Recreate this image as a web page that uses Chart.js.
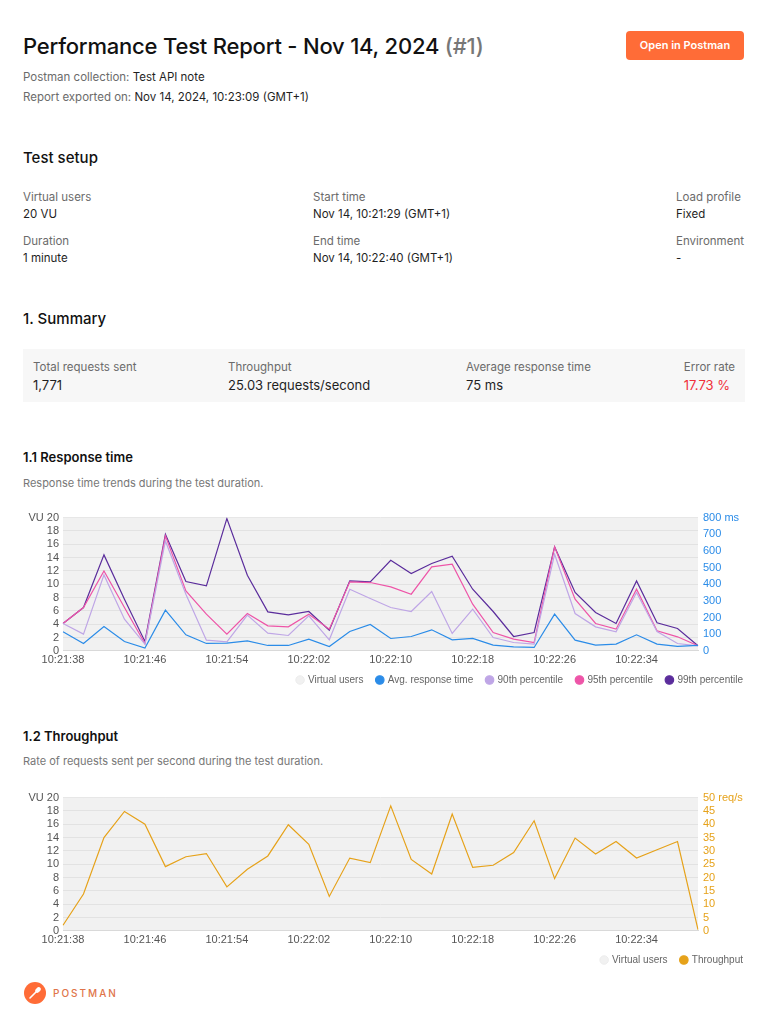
<!DOCTYPE html>
<html>
<head>
<meta charset="utf-8">
<script src="https://cdn.jsdelivr.net/npm/chart.js@4.4.1/dist/chart.umd.min.js"></script>
<style>
  html, body { margin: 0; padding: 0; background: #fff; }
  body { width: 768px; height: 1024px; position: relative; font-family: Inter, "Noto Sans", sans-serif; color: #1f1f1f; overflow: hidden; }
  .t { position: absolute; white-space: nowrap; }
  .lbl { color: #6b6b6b; }
  .sm { font-size: 11.5px; line-height: 16px; }
  .h2 { font-size: 15px; line-height: 20px; font-weight: 500; color: #111; }
  .h3 { font-size: 13px; line-height: 18px; font-weight: 600; color: #111; }
  .desc { font-size: 11px; line-height: 16px; color: #777; }
  .btn { position: absolute; left: 626px; top: 31px; width: 118px; height: 29px; background: #ff6c37; border-radius: 4px;
         color: #fff; font-size: 11px; font-weight: 600; line-height: 29px; text-align: center; }
  .box { position: absolute; left: 23px; top: 349px; width: 722px; height: 53px; background: #f7f7f7; }
  .val { font-size: 13px; line-height: 18px; color: #1f1f1f; }
  .chart { position: absolute; left: 20px; width: 728px; height: 189px; }
</style>
</head>
<body>
<div class="t" style="left:23px; top:32px; font-size:22px; line-height:28px; font-weight:500; letter-spacing:-0.2px; color:#111;">Performance Test Report - Nov 14, 2024 <span style="color:#777;">(#1)</span></div>
<div class="btn">Open in Postman</div>
<div class="t sm" style="left:23px; top:69px;"><span class="lbl">Postman collection:</span> Test API note</div>
<div class="t sm" style="left:23px; top:89px;"><span class="lbl">Report exported on:</span> Nov 14, 2024, 10:23:09 (GMT+1)</div>

<div class="t h2" style="left:23px; top:148px;">Test setup</div>
<div class="t sm lbl" style="left:23px; top:189px;">Virtual users</div>
<div class="t sm" style="left:23px; top:206px;">20 VU</div>
<div class="t sm lbl" style="left:23px; top:233px;">Duration</div>
<div class="t sm" style="left:23px; top:250px;">1 minute</div>
<div class="t sm lbl" style="left:313px; top:189px;">Start time</div>
<div class="t sm" style="left:313px; top:206px;">Nov 14, 10:21:29 (GMT+1)</div>
<div class="t sm lbl" style="left:313px; top:233px;">End time</div>
<div class="t sm" style="left:313px; top:250px;">Nov 14, 10:22:40 (GMT+1)</div>
<div class="t sm lbl" style="left:676px; top:189px;">Load profile</div>
<div class="t sm" style="left:676px; top:206px;">Fixed</div>
<div class="t sm lbl" style="left:676px; top:233px;">Environment</div>
<div class="t sm" style="left:676px; top:250px;">-</div>

<div class="t h2" style="left:23px; top:309px;">1. Summary</div>
<div class="box"></div>
<div class="t sm lbl" style="left:33px; top:359px;">Total requests sent</div>
<div class="t val" style="left:33px; top:376px;">1,771</div>
<div class="t sm lbl" style="left:228px; top:359px;">Throughput</div>
<div class="t val" style="left:228px; top:376px;">25.03 requests/second</div>
<div class="t sm lbl" style="left:466px; top:359px;">Average response time</div>
<div class="t val" style="left:466px; top:376px;">75 ms</div>
<div class="t sm lbl" style="right:33px; top:359px;">Error rate</div>
<div class="t val" style="right:38px; top:376px; color:#f0303a;">17.73 %</div>

<div class="t h3" style="left:23px; top:448px;">1.1 Response time</div>
<div class="t desc" style="left:23px; top:475px;">Response time trends during the test duration.</div>
<div class="chart" style="top:506px;"><canvas id="respChart"></canvas></div>

<div class="t h3" style="left:23px; top:727px;">1.2 Throughput</div>
<div class="t desc" style="left:23px; top:753px;">Rate of requests sent per second during the test duration.</div>
<div class="chart" style="top:786px;"><canvas id="tputChart"></canvas></div>

<svg style="position:absolute; left:24px; top:982px;" width="22" height="22" viewBox="0 0 22 22">
  <circle cx="11" cy="11" r="11" fill="#ff6c37"/>
  <path d="M6 16 L12 10" stroke="#fff" stroke-width="1.6" stroke-linecap="round"/>
  <ellipse cx="14" cy="8" rx="2.2" ry="3.2" transform="rotate(45 14 8)" fill="#fff"/>
</svg>
<div class="t" style="left:53px; top:986px; font-size:10px; line-height:14px; letter-spacing:2px; color:#e0744a; font-weight:500;">POSTMAN</div>

<script>
// time labels, one point every 2 seconds
const timeLabels = [
  '10:21:38','10:21:40','10:21:42','10:21:44','10:21:46','10:21:48','10:21:50','10:21:52',
  '10:21:54','10:21:56','10:21:58','10:22:00','10:22:02','10:22:04','10:22:06','10:22:08',
  '10:22:10','10:22:12','10:22:14','10:22:16','10:22:18','10:22:20','10:22:22','10:22:24',
  '10:22:26','10:22:28','10:22:30','10:22:32','10:22:34','10:22:36','10:22:38','10:22:40'
];

const virtualUsers = Array(32).fill(20);

// response times (ms)
const avgResponse = [114,44,146,56,16,244,96,44,46,60,32,32,70,26,116,158,74,86,126,66,74,34,24,20,220,64,34,40,96,40,26,32];
const p90 = [164,100,456,190,40,660,340,64,54,214,106,92,210,66,370,314,260,236,356,104,250,80,50,40,580,224,144,114,350,116,44,30];
const p95 = [164,260,480,260,44,690,360,220,100,224,150,144,220,130,414,410,384,340,504,520,280,110,70,50,624,310,164,130,370,120,84,30];
const p99 = [164,260,576,310,56,700,416,390,794,454,234,216,236,124,420,414,544,464,524,568,370,236,86,110,624,350,230,164,420,168,134,30];

// throughput (req/s)
const throughput = [2.1,13.8,35,44.8,40,24.1,27.8,29,16.5,23.1,28.1,39.8,32.5,12.9,27.3,25.6,46.9,26.8,21.3,43.8,23.8,24.6,29.4,41.3,19.6,34.8,28.8,33.5,27.3,30.4,33.5,0.4];

const tickFont = { family: "'Liberation Sans', Arial, sans-serif", size: 11 };
const gridColor = '#e4e4e4';

function vuDataset() {
  return {
    label: 'Virtual users', data: virtualUsers, yAxisID: 'y', order: 1,
    borderColor: '#ececec', backgroundColor: 'rgba(225,225,225,0.45)', borderWidth: 1,
    fill: 'origin', pointRadius: 0
  };
}

function lineDataset(label, data, color) {
  return {
    label: label, data: data, yAxisID: 'y1', order: 0,
    borderColor: color, backgroundColor: color, borderWidth: 1.2,
    fill: false, pointRadius: 0, tension: 0
  };
}

// legend items in dataset order, with a little extra room after each one
function legendLabels(chart) {
  const items = Chart.defaults.plugins.legend.labels.generateLabels(chart);
  items.sort((a, b) => a.datasetIndex - b.datasetIndex);
  items.forEach((it, i) => { if (i < items.length - 1) it.text += '\u00a0\u00a0\u00a0'; });
  return items;
}

function buildOptions(rightMax, rightStep, rightUnit, rightColor) {
  return {
    responsive: true,
    maintainAspectRatio: false,
    animation: false,
    layout: { padding: { top: 6, left: 0, right: 0, bottom: 0 } },
    plugins: {
      tooltip: { enabled: false },
      legend: {
        position: 'bottom', align: 'end',
        labels: {
          usePointStyle: true, pointStyle: 'circle', boxWidth: 6, boxHeight: 6,
          color: '#666', font: { family: tickFont.family, size: 10 }, padding: 5,
          generateLabels: legendLabels
        }
      }
    },
    scales: {
      x: {
        offset: false,
        grid: { display: false, drawTicks: false, tickLength: 0 },
        border: { color: '#d8d8d8' },
        ticks: {
          color: '#555', font: tickFont, maxRotation: 0, autoSkip: false, padding: 3,
          callback: function (v, i) { return i % 4 === 0 ? timeLabels[i] : ''; }
        }
      },
      y: {
        position: 'left', min: 0, max: 20,
        grid: { color: gridColor, drawTicks: false },
        border: { display: false },
        ticks: {
          stepSize: 2, autoSkip: false, color: '#555', font: tickFont, padding: 4,
          callback: v => v === 20 ? 'VU 20' : v
        },
        afterFit: s => { s.width = 43; }
      },
      y1: {
        position: 'right', min: 0, max: rightMax,
        grid: { drawOnChartArea: false, drawTicks: false },
        border: { display: false },
        ticks: {
          stepSize: rightStep, autoSkip: false, color: rightColor, font: tickFont, padding: 5,
          callback: v => v === rightMax ? v + ' ' + rightUnit : v
        },
        afterFit: s => { s.width = 50; }
      }
    }
  };
}

new Chart(document.getElementById('respChart'), {
  type: 'line',
  data: {
    labels: timeLabels,
    datasets: [
      vuDataset(),
      lineDataset('Avg. response time', avgResponse, '#2b8ce8'),
      lineDataset('90th percentile', p90, '#bfa6e6'),
      lineDataset('95th percentile', p95, '#ee55a8'),
      lineDataset('99th percentile', p99, '#5b2d9c')
    ]
  },
  options: buildOptions(800, 100, 'ms', '#2b8ce8')
});

new Chart(document.getElementById('tputChart'), {
  type: 'line',
  data: {
    labels: timeLabels,
    datasets: [
      vuDataset(),
      lineDataset('Throughput', throughput, '#e6a21a')
    ]
  },
  options: buildOptions(50, 5, 'req/s', '#e6a21a')
});
</script>
</body>
</html>
